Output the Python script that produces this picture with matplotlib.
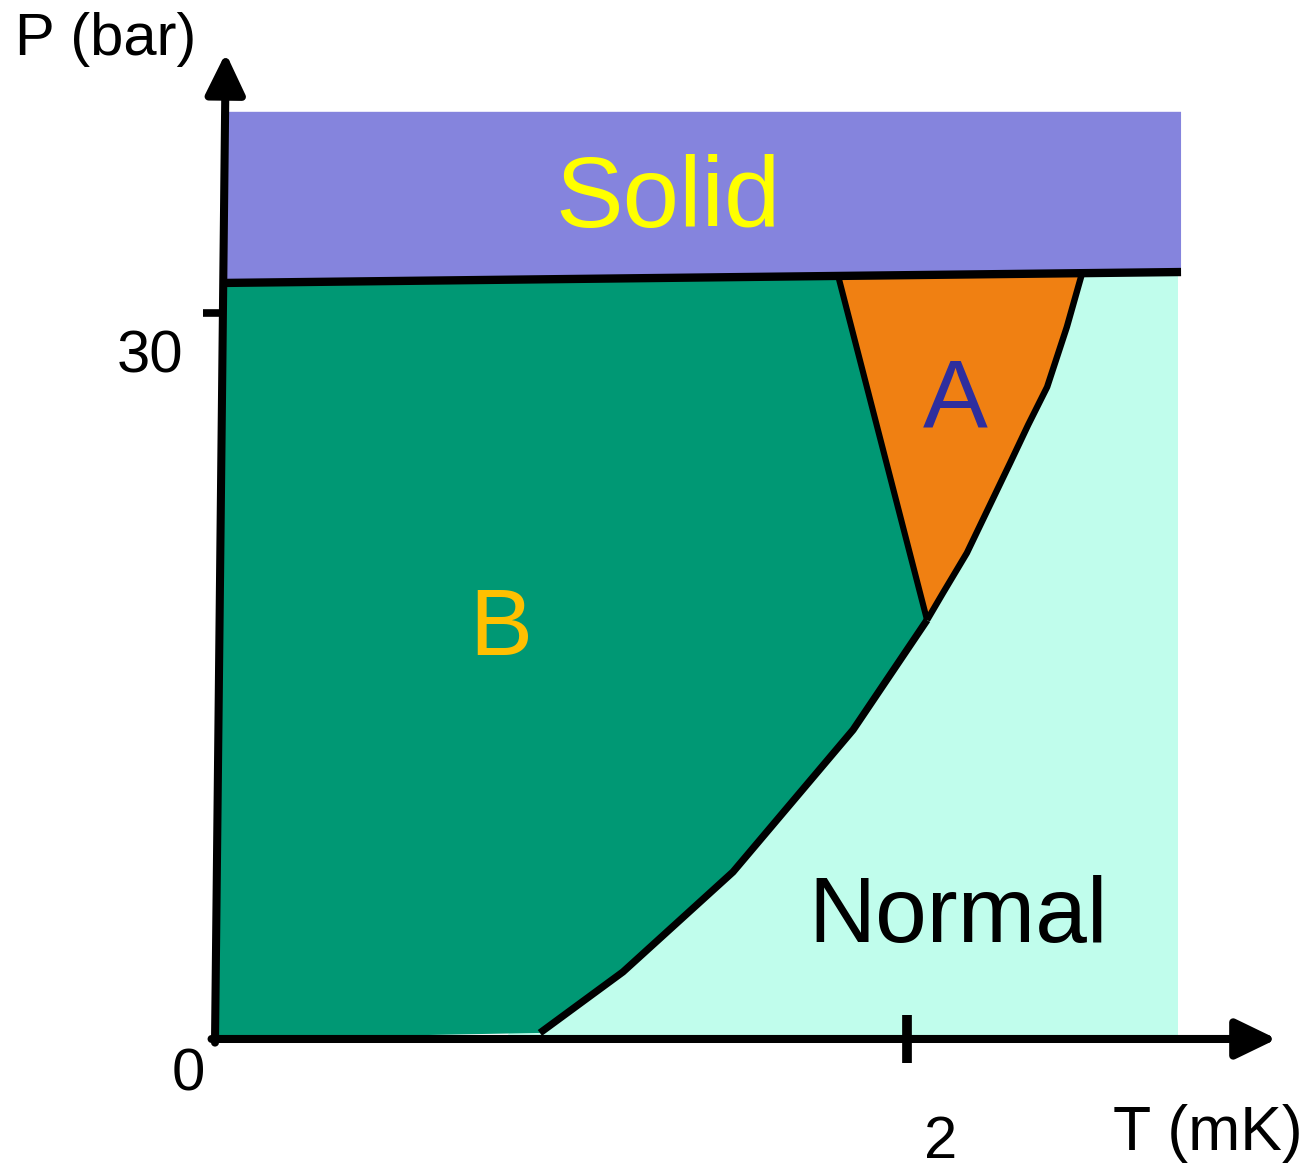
import matplotlib.pyplot as plt
from matplotlib.patches import Polygon

plt.rcParams["font.family"] = ["Liberation Sans", "DejaVu Sans"]

# phase boundaries of superfluid 3He (schematic), T in mK, P in bar
T_BN = [0.939, 1.179, 1.497, 1.844, 2.058]      # B -> normal
P_BN = [0.25, 2.77, 6.90, 12.77, 17.31]
T_AN = [2.058, 2.104, 2.173, 2.298, 2.350, 2.405, 2.462, 2.506]   # A -> normal
P_AN = [17.31, 18.43, 20.08, 23.80, 25.37, 26.94, 29.42, 31.64]
T_AB = [2.058, 1.801]                           # A -> B
P_AB = [17.31, 31.53]
T_MELT = [0.032, 2.792]                         # melting curve
P_MELT = [31.24, 31.69]

T_NORMAL_MAX = 2.783
P_SOLID_TOP = 38.31

X_TICKS = [2]
Y_TICKS = [30]

COL_SOLID = "#8584DD"
COL_B = "#009874"
COL_A = "#F08012"
COL_NORMAL = "#C0FDEC"

fig = plt.figure(figsize=(13.11, 11.71), dpi=100)
ax = fig.add_axes([0, 0, 1, 1])
ax.set_xlim(-0.6214, 3.1676)
ax.set_ylim(-5.455, 42.93)
ax.axis("off")

# region fills
normal = Polygon([(T_BN[0] - 0.1, 0), (T_NORMAL_MAX, 0), (T_NORMAL_MAX, P_MELT[1]),
                  (T_AN[-1] - 0.1, P_MELT[1]), (T_BN[0] - 0.1, 0)],
                 closed=True, fc=COL_NORMAL, ec="none", zorder=1)
b_pts = [(0, 0)] + list(zip(T_BN, P_BN)) + [(T_AB[1], P_AB[1]), (T_MELT[0], P_MELT[0])]
b_phase = Polygon(b_pts, closed=True, fc=COL_B, ec="none", zorder=1)
a_pts = [(T_AB[1], P_AB[1])] + list(zip(T_AN, P_AN))
a_phase = Polygon(a_pts, closed=True, fc=COL_A, ec="none", zorder=1)
solid = Polygon([(T_MELT[0], P_MELT[0]), (T_MELT[1], P_MELT[1]),
                 (T_MELT[1], P_SOLID_TOP), (T_MELT[0] - 0.004, P_SOLID_TOP)],
                closed=True, fc=COL_SOLID, ec="none", zorder=1)
for p in (normal, b_phase, a_phase, solid):
    ax.add_patch(p)

# boundary lines
ax.plot(T_BN, P_BN, color="black", lw=5.2, zorder=2, solid_capstyle="butt",
        solid_joinstyle="round")
ax.plot(T_AN, P_AN, color="black", lw=4.6, zorder=2, solid_capstyle="butt",
        solid_joinstyle="round")
ax.plot(T_AB, P_AB, color="black", lw=4.4, zorder=2, solid_capstyle="butt")
ax.plot(T_MELT, P_MELT, color="black", lw=6.0, zorder=2, solid_capstyle="butt")

# axes with arrows
arrow = dict(arrowstyle="-|>,head_length=0.62,head_width=0.3", color="black",
             lw=5.8, mutation_scale=40, shrinkA=0, shrinkB=0)
ax.annotate("", xy=(3.069, 0), xytext=(-0.01, 0), arrowprops=arrow, zorder=3)
ax.annotate("", xy=(0.031, 40.74), xytext=(0, -0.15), arrowprops=arrow, zorder=3)

for t in X_TICKS:
    ax.plot([t, t], [-1.0, 1.0], color="black", lw=7, zorder=3, solid_capstyle="butt")
    ax.text(t + 0.098, -4.9, str(t), fontsize=43, ha="center", va="baseline")
for p in Y_TICKS:
    ax.plot([-0.035, 0.02], [p, p], color="black", lw=5.5, zorder=3, solid_capstyle="butt")
    ax.text(-0.188, p - 2.48, str(p), fontsize=43, ha="center", va="baseline")
ax.text(-0.078, -2.11, "0", fontsize=43, ha="center", va="baseline")

ax.text(-0.578, 40.66, "P (bar)", fontsize=43, ha="left", va="baseline")
ax.text(2.595, -4.59, "T (mK)", fontsize=45, ha="left", va="baseline")

# phase labels
ax.text(1.309, 33.55, "Solid", fontsize=73, color="#FFFF00", ha="center", va="baseline", zorder=4)
ax.text(2.139, 25.29, "A", fontsize=70, color="#2E2E9E", ha="center", va="baseline", zorder=4)
ax.text(0.827, 15.87, "B", fontsize=68, color="#FFC000", ha="center", va="baseline", zorder=4)
ax.text(2.147, 4.01, "Normal", fontsize=67, color="black", ha="center", va="baseline", zorder=4)

fig.savefig("out.png", dpi=100)
